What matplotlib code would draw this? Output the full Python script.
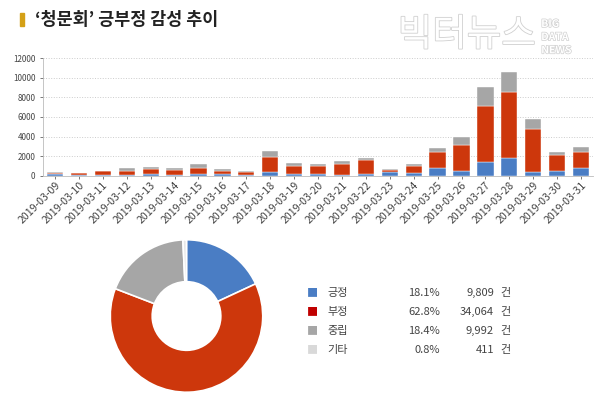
import numpy as np
import matplotlib
matplotlib.use("Agg")
import matplotlib.pyplot as plt
import matplotlib.patheffects as pe
from matplotlib.patches import Rectangle

plt.rcParams['font.family'] = ['Noto Sans CJK KR', 'DejaVu Sans']

# ==============================
# 데이터
# ==============================
dates = ["2019-03-09", "2019-03-10", "2019-03-11", "2019-03-12", "2019-03-13",
         "2019-03-14", "2019-03-15", "2019-03-16", "2019-03-17", "2019-03-18",
         "2019-03-19", "2019-03-20", "2019-03-21", "2019-03-22", "2019-03-23",
         "2019-03-24", "2019-03-25", "2019-03-26", "2019-03-27", "2019-03-28",
         "2019-03-29", "2019-03-30", "2019-03-31"]
positivo = [170, 30, 40, 100, 150, 100, 170, 120, 50, 340, 170, 170, 100, 170,
            410, 270, 780, 510, 1400, 1840, 375, 510, 820]
negativo = [140, 240, 380, 380, 500, 450, 650, 390, 330, 1610, 850, 850, 1130,
            1400, 170, 680, 1610, 2660, 5730, 6720, 4365, 1570, 1600]
neutral = [50, 30, 60, 270, 200, 200, 380, 170, 100, 570, 280, 140, 240, 270,
           100, 210, 470, 750, 1910, 2010, 1060, 310, 510]

labels = ["긍정", "부정", "중립", "기타"]
pcts = ["18.1%", "62.8%", "18.4%", "0.8%"]
counts = [9809, 34064, 9992, 411]

C_POS = "#4A7DC4"
C_NEG = "#CD370C"
C_NEU = "#A6A6A6"
C_ETC = "#E8E8E8"
LEG_COLORS = ["#4A7DC4", "#C00000", "#A6A6A6", "#D9D9D9"]

fig = plt.figure(figsize=(6, 4), dpi=100)
fig.patch.set_facecolor("white")

# --- título ---
fig.patches.append(Rectangle((20 / 600, 1 - 26 / 400), 4 / 600, 13 / 400,
                             transform=fig.transFigure, color="#D4A017"))
fig.text(0.058, 0.949, "‘청문회’ 긍부정 감성 추이", fontsize=12.5, fontweight="bold",
         color="#222222", va="center", ha="left")

# --- marca de agua ---
wm = fig.text(0.663, 0.912, "빅터뉴스", fontsize=27, color="white", va="center",
              ha="left", fontweight="light")
wm.set_path_effects([pe.withStroke(linewidth=1.2, foreground="#D0D0D0")])
for i, w in enumerate(["BIG", "DATA", "NEWS"]):
    t = fig.text(0.902, 0.94 - i * 0.033, w, fontsize=7.5, color="white",
                 va="center", ha="left", fontweight="bold")
    t.set_path_effects([pe.withStroke(linewidth=1.0, foreground="#D0D0D0")])

# ==============================
# Barras apiladas
# ==============================
ax = fig.add_axes([0.0717, 0.561, 0.9167, 0.293])
x = np.arange(len(dates))
pos = np.array(positivo)
neg = np.array(negativo)
neu = np.array(neutral)
w = 0.68
ax.bar(x, pos, w, color=C_POS, edgecolor="white", linewidth=0.3, zorder=3)
ax.bar(x, neg, w, bottom=pos, color=C_NEG, edgecolor="white", linewidth=0.3, zorder=3)
ax.bar(x, neu, w, bottom=pos + neg, color=C_NEU, edgecolor="white", linewidth=0.3, zorder=3)

ax.set_xlim(-0.5, len(dates) - 0.5)
ax.set_ylim(0, 12000)
ax.set_yticks(range(0, 12001, 2000))
ax.set_xticks(x)
ax.set_xticklabels(dates, rotation=45, ha="right", rotation_mode="anchor")
ax.tick_params(axis="y", labelsize=5.8, colors="#444444", length=2, width=0.5)
ax.tick_params(axis="x", labelsize=7.6, colors="#444444", length=2, width=0.5, pad=1)
ax.grid(axis="y", linestyle=":", color="#CCCCCC", linewidth=0.7, zorder=0)
for s in ["top", "right"]:
    ax.spines[s].set_visible(False)
for s in ["left", "bottom"]:
    ax.spines[s].set_color("#BBBBBB")
    ax.spines[s].set_linewidth(0.6)

# ==============================
# Dona
# ==============================
axp = fig.add_axes([109.5 / 600, 1 - 393 / 400, 154 / 600, 154 / 400])
axp.pie(counts, colors=[C_POS, C_NEG, C_NEU, C_ETC], startangle=90,
        counterclock=False, radius=1,
        wedgeprops=dict(width=0.55, edgecolor="white", linewidth=1.2))
axp.set_xlim(-1.01, 1.01)
axp.set_ylim(-1.01, 1.01)
axp.set_aspect("equal")

# --- tabla de leyenda ---
row_y = [293, 312, 331, 350]
for i in range(len(labels)):
    yy = 1 - row_y[i] / 400
    fig.text(312 / 600, yy, "■", color=LEG_COLORS[i], fontsize=8, va="center", ha="center")
    fig.text(327 / 600, yy, labels[i], fontsize=8, color="#444444", va="center", ha="left")
    fig.text(440 / 600, yy, pcts[i], fontsize=8, color="#444444", va="center", ha="right")
    fig.text(494 / 600, yy, f"{counts[i]:,}", fontsize=8, color="#444444", va="center", ha="right")
    fig.text(500 / 600, yy, "건", fontsize=8, color="#444444", va="center", ha="left")

fig.savefig("out.png", dpi=100)
